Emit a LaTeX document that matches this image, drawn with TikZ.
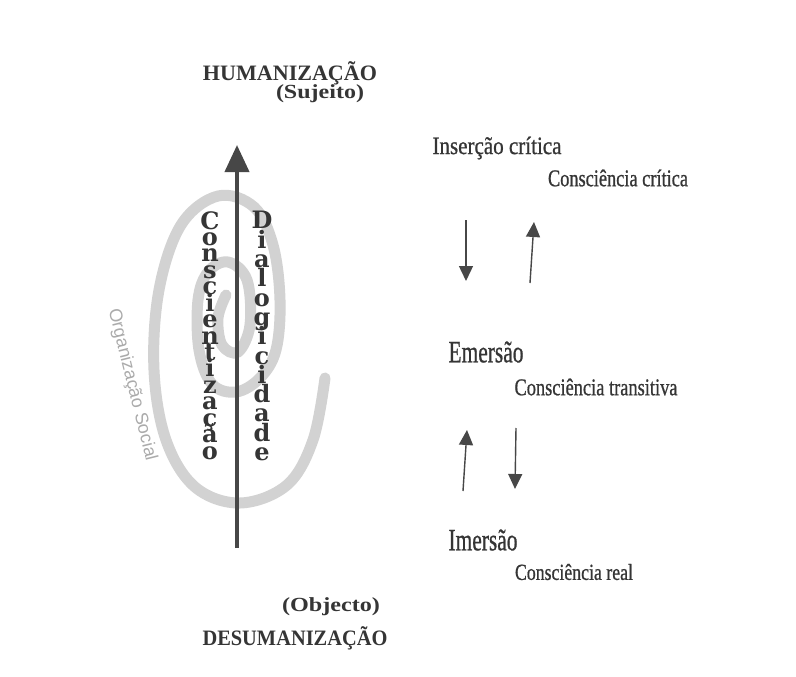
\documentclass[tikz,border=0pt]{standalone}
\usepackage{fontspec}
\usepackage{graphicx}
\usetikzlibrary{arrows.meta}
\newfontfamily\tnr[FakeBold=0.9]{Liberation Serif}
\newfontfamily\tnrh{Liberation Serif}
\newfontfamily\dvs{DejaVu Serif}
\newfontfamily\lsans{Liberation Sans}
\definecolor{ink}{HTML}{353535}
\definecolor{arrowc}{HTML}{474747}
\definecolor{spiralc}{HTML}{D2D2D2}
\definecolor{orgc}{HTML}{ABABAB}
\newcommand\wfit[2]{\resizebox{#1}{\height}{#2}}
\newcommand\nolsl{\lineskiplimit-100pt\relax}
\begin{document}
\begin{tikzpicture}[x=1pt,y=-1pt,
  lab/.style={inner sep=0pt, text=ink, font=\tnr},
  headlab/.style={inner sep=0pt, text=ink, font=\tnrh\bfseries},
  stacklab/.style={inner sep=0pt, text=ink, align=center, anchor=north},
  smallarrow/.style={draw=arrowc, line width=1.4pt, -{Triangle[width=14pt,length=15pt]}},
  mainarrow/.style={draw=arrowc, line width=4pt, -{Triangle[width=24pt,length=27pt]}},
  spiralband/.style={draw=spiralc, line width=11pt, line cap=round}
]
\useasboundingbox (0,0) rectangle (796,677);
\fill[white] (0,0) rectangle (796,677);

% spiral
\draw[spiralband] plot[smooth, tension=0.6] coordinates {(325,378) (313,440) (287,485) (240,503) (195,487) (166,440) (154,370) (159,290) (181,225) (218,196) (254,207) (273,245) (280,300) (276,350) (260,378) (236,392) (212,384) (199,350) (198,300) (208,272) (228,262) (247,280) (250,325) (238,352) (222,345) (218,318) (226,295)};

% organizacao social
\node[rotate=-76, inner sep=0pt, text=orgc, font=\lsans\fontsize{18}{18}\selectfont] (org) at (132,385) {Organização Social};

% main arrow
\coordinate (mb) at (237,548);
\coordinate (mt) at (237,145);
\draw[mainarrow] (mb) -- (mt);

% vertical words
\node[stacklab, font=\dvs\bfseries\fontsize{24}{16.43}\selectfont\nolsl] (consc) at (210,211)
 {C\\o\\n\\s\\c\\i\\e\\n\\t\\i\\z\\a\\ç\\ã\\o};
\node[stacklab, font=\dvs\bfseries\fontsize{24}{19.33}\selectfont\nolsl] (dialog) at (262,211)
 {D\\i\\a\\l\\o\\g\\i\\c\\i\\d\\a\\d\\e};

% headers
\node[headlab, font=\tnrh\bfseries\fontsize{22}{22}\selectfont] (hum) at (290,73) {\wfit{174pt}{HUMANIZAÇÃO}};
\node[headlab, font=\tnrh\bfseries\fontsize{20}{20}\selectfont] (suj) at (320,94) {\wfit{88pt}{(Sujeito)}};
\node[headlab, font=\tnrh\bfseries\fontsize{20}{20}\selectfont] (obj) at (331,607) {\wfit{98pt}{(Objecto)}};
\node[headlab, font=\tnrh\bfseries\fontsize{22}{22}\selectfont] (desum) at (295,638) {\wfit{185pt}{DESUMANIZAÇÃO}};

% right labels
\node[lab, font=\tnr\fontsize{25}{25}\selectfont] (insc) at (497,148) {\wfit{129pt}{Inserção crítica}};
\node[lab, font=\tnr\fontsize{24}{24}\selectfont] (cc) at (618,178) {\wfit{140pt}{Consciência crítica}};
\node[lab, font=\tnr\fontsize{31}{31}\selectfont] (emer) at (486,352) {\wfit{75pt}{Emersão}};
\node[lab, font=\tnr\fontsize{24}{24}\selectfont] (ct) at (596,387) {\wfit{163pt}{Consciência transitiva}};
\node[lab, font=\tnr\fontsize{31}{31}\selectfont] (imer) at (483,540) {\wfit{69pt}{Imersão}};
\node[lab, font=\tnr\fontsize{23}{23}\selectfont] (cr) at (574,572) {\wfit{118pt}{Consciência real}};

% small arrows
\coordinate (a1s) at (466,220); \coordinate (a1e) at (466,281);
\coordinate (a2s) at (530,283); \coordinate (a2e) at (534,222);
\coordinate (a3s) at (463,491); \coordinate (a3e) at (467,430);
\coordinate (a4s) at (516,428); \coordinate (a4e) at (515,489);
\draw[smallarrow] (a1s) -- (a1e);
\draw[smallarrow] (a2s) -- (a2e);
\draw[smallarrow] (a3s) -- (a3e);
\draw[smallarrow] (a4s) -- (a4e);
\end{tikzpicture}
\end{document}
